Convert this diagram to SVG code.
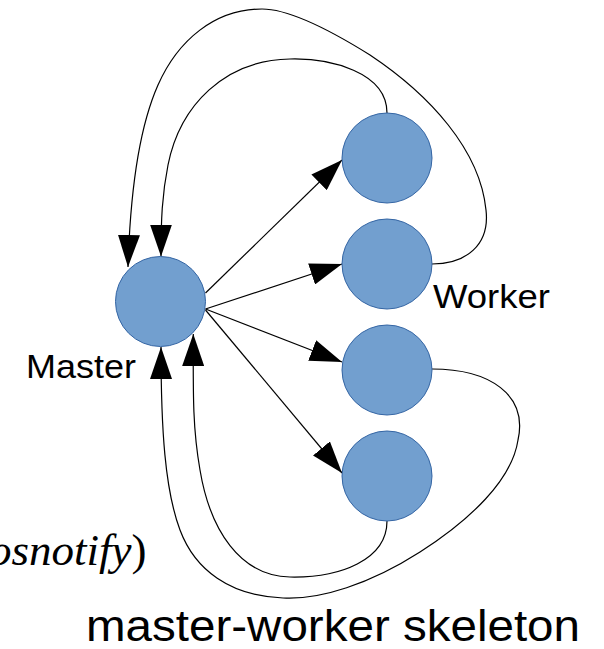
<svg xmlns="http://www.w3.org/2000/svg" width="604" height="649" viewBox="0 0 604 649">
  <style>
    .node { fill: #729fcf; stroke: #3465a4; stroke-width: 1; }
    .edge { fill: none; stroke: #000; stroke-width: 1.2; marker-end: url(#head); }
    .label { font-family: "Liberation Sans", Arial, sans-serif; fill: #000; }
    .note { font-family: "Liberation Serif", "Times New Roman", serif; fill: #000; }
  </style>
  <defs>
    <marker id="head" markerUnits="userSpaceOnUse" markerWidth="32" markerHeight="22" refX="32" refY="11" orient="auto" viewBox="0 0 32 22">
      <path d="M0,0 L32,11 L0,22 z" fill="#000"/>
    </marker>
  </defs>
  <rect width="604" height="649" fill="#fff"/>

  <!-- connectors -->
  <g id="connectors">
    <!-- master to workers -->
    <path class="edge" d="M205.5,293 L342,160"/>
    <path class="edge" d="M205.5,309 L342,264"/>
    <path class="edge" d="M205.5,309 L342,362"/>
    <path class="edge" d="M205.5,310 L342,473"/>
    <!-- workers back to master -->
    <path class="edge" d="M432,264 C466,264 490,245 486,210 C480,150 430,95 370,55 C330,30 290,9 262,9 C215,9 178,40 158,85 C138,130 130,200 128,267"/>
    <path class="edge" d="M387,113 C387,72 330,58 290,59 C225,60 180,105 168,165 C162,195 161,220 161,256.5"/>
    <path class="edge" d="M432,369 C490,369 528,395 518,440 C512,480 470,520 420,552 C370,584 320,600 283,598 C230,596 195,570 180,530 C165,490 161,430 161,347"/>
    <path class="edge" d="M387,521 C387,560 340,578 290,577 C240,576 210,530 200,470 C193,430 193,400 193.3,334"/>
  </g>

  <!-- nodes -->
  <g id="master">
    <circle class="node" cx="160.5" cy="301.5" r="45"/>
    <text class="label" x="26" y="378" font-size="33" textLength="110" lengthAdjust="spacingAndGlyphs">Master</text>
  </g>
  <g id="worker1">
    <circle class="node" cx="387" cy="158" r="45"/>
  </g>
  <g id="worker2">
    <circle class="node" cx="387" cy="264" r="45"/>
    <text class="label" x="433" y="308" font-size="33" textLength="117" lengthAdjust="spacingAndGlyphs">Worker</text>
  </g>
  <g id="worker3">
    <circle class="node" cx="387" cy="370" r="45"/>
  </g>
  <g id="worker4">
    <circle class="node" cx="387" cy="476" r="45"/>
  </g>

  <!-- captions -->
  <g id="captions">
    <text class="note" x="-11" y="565" font-size="45"><tspan font-style="italic">osnotify</tspan>)</text>
    <text class="label" x="86" y="641" font-size="45" textLength="494" lengthAdjust="spacingAndGlyphs">master-worker skeleton</text>
  </g>
</svg>
